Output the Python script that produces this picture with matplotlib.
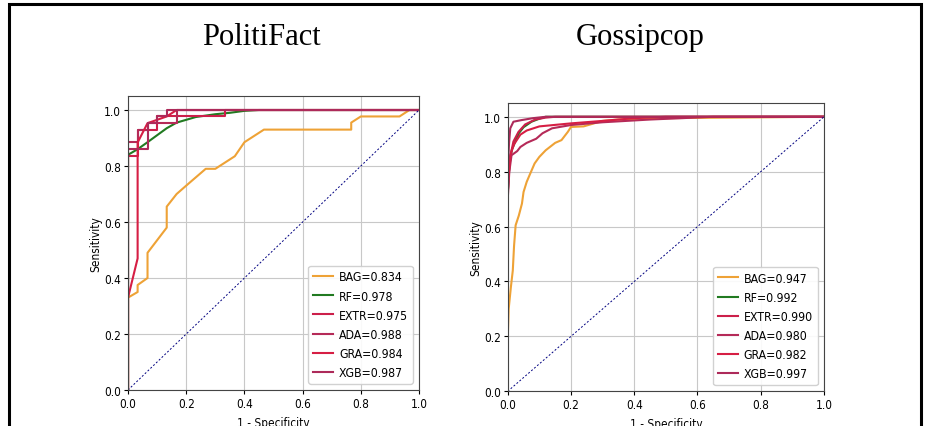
import matplotlib
matplotlib.use("Agg")
import matplotlib.pyplot as plt
from matplotlib.patches import Rectangle
from matplotlib import font_manager

# ---- PolitiFact ROC points ----
pf_bag_x = [0, 0, 0.033, 0.033, 0.067, 0.067, 0.133, 0.133, 0.167, 0.2, 0.267, 0.3, 0.367, 0.4, 0.467, 0.767, 0.767, 0.8, 0.933, 0.967, 1.0]
pf_bag_y = [0, 0.33, 0.35, 0.375, 0.40, 0.49, 0.58, 0.655, 0.70, 0.73, 0.79, 0.79, 0.835, 0.885, 0.93, 0.93, 0.955, 0.977, 0.977, 1.0, 1.0]
pf_rf_x = [0, 0, 0.033, 0.067, 0.1, 0.133, 0.167, 0.2, 0.233, 0.3, 0.35, 0.4, 0.45, 1.0]
pf_rf_y = [0, 0.84, 0.86, 0.885, 0.91, 0.935, 0.955, 0.965, 0.975, 0.985, 0.99, 0.997, 1.0, 1.0]
pf_extr_x = [0, 0, 0.033, 0.033, 0.1, 0.1, 0.333, 0.333, 1.0]
pf_extr_y = [0, 0.837, 0.837, 0.93, 0.93, 0.977, 0.977, 1.0, 1.0]
pf_ada_x = [0, 0, 0.033, 0.033, 0.067, 0.067, 0.167, 0.167, 1.0]
pf_ada_y = [0, 0.884, 0.884, 0.93, 0.93, 0.953, 0.953, 1.0, 1.0]
pf_gra_x = [0, 0, 0.033, 0.033, 0.067, 0.133, 0.167, 1.0]
pf_gra_y = [0, 0.33, 0.47, 0.884, 0.953, 0.977, 1.0, 1.0]
pf_xgb_x = [0, 0, 0.067, 0.067, 0.1, 0.1, 0.133, 0.133, 1.0]
pf_xgb_y = [0, 0.86, 0.86, 0.953, 0.953, 0.977, 0.977, 1.0, 1.0]

# ---- Gossipcop ROC points ----
gc_bag_x = [0, 0, 0.003, 0.01, 0.016, 0.02, 0.025, 0.035, 0.045, 0.05, 0.06, 0.07, 0.085, 0.1, 0.12, 0.15, 0.17, 0.19, 0.2, 0.24, 0.27, 0.3, 0.35, 0.5, 1.0]
gc_bag_y = [0, 0.19, 0.30, 0.38, 0.44, 0.53, 0.605, 0.64, 0.684, 0.726, 0.763, 0.79, 0.83, 0.854, 0.878, 0.905, 0.915, 0.945, 0.963, 0.965, 0.975, 0.985, 0.99, 0.995, 1.0]
gc_rf_x = [0, 0, 0.005, 0.013, 0.024, 0.035, 0.05, 0.075, 0.1, 0.12, 1.0]
gc_rf_y = [0, 0.72, 0.82, 0.88, 0.91, 0.94, 0.962, 0.982, 0.993, 1.0, 1.0]
gc_extr_x = [0, 0, 0.007, 0.018, 0.034, 0.055, 0.087, 0.12, 0.15, 1.0]
gc_extr_y = [0, 0.72, 0.85, 0.91, 0.945, 0.972, 0.99, 0.997, 1.0, 1.0]
gc_ada_x = [0, 0, 0.005, 0.012, 0.03, 0.04, 0.06, 0.09, 0.11, 0.14, 0.2, 0.3, 0.45, 0.65, 1.0]
gc_ada_y = [0, 0.70, 0.80, 0.86, 0.875, 0.89, 0.905, 0.92, 0.94, 0.958, 0.97, 0.98, 0.99, 1.0, 1.0]
gc_gra_x = [0, 0, 0.008, 0.02, 0.04, 0.06, 0.1, 0.2, 0.3, 0.4, 0.5, 1.0]
gc_gra_y = [0, 0.75, 0.86, 0.90, 0.935, 0.95, 0.965, 0.976, 0.985, 0.995, 1.0, 1.0]
gc_xgb_x = [0, 0, 0.004, 0.008, 0.018, 0.044, 0.08, 0.12, 1.0]
gc_xgb_y = [0, 0.80, 0.90, 0.958, 0.982, 0.988, 0.995, 1.0, 1.0]

models = ["BAG", "RF", "EXTR", "ADA", "GRA", "XGB"]
pf_auc = [0.834, 0.978, 0.975, 0.988, 0.984, 0.987]
gc_auc = [0.947, 0.992, 0.990, 0.980, 0.982, 0.997]
colors = ["#eea236", "#217a21", "#cc1f4a", "#b52a58", "#d61e44", "#ad2a5a"]

ticks = [0.0, 0.2, 0.4, 0.6, 0.8, 1.0]

# narrow sans text like the squeezed screenshot
installed = {f.name for f in font_manager.fontManager.ttflist}
narrow = [f for f in ["DejaVu Sans Condensed", "Liberation Sans Narrow"] if f in installed]
plt.rcParams["font.family"] = narrow + ["DejaVu Sans"]
plt.rcParams["font.stretch"] = "condensed"

fig = plt.figure(figsize=(9.25, 4.27), dpi=100)
fig.patch.set_facecolor("white")

# outer frame (bottom runs off the picture)
fig.patches.append(Rectangle((0.0097, -0.1), 0.986, 1.088, transform=fig.transFigure,
                             fill=False, edgecolor="black", linewidth=2.2))

panels = [
    ("PolitiFact", [0.1384, 0.0843, 0.3146, 0.6885], 0.283,
     [(pf_bag_x, pf_bag_y), (pf_rf_x, pf_rf_y), (pf_extr_x, pf_extr_y),
      (pf_ada_x, pf_ada_y), (pf_gra_x, pf_gra_y), (pf_xgb_x, pf_xgb_y)], pf_auc),
    ("Gossipcop", [0.5489, 0.0813, 0.3419, 0.675], 0.692,
     [(gc_bag_x, gc_bag_y), (gc_rf_x, gc_rf_y), (gc_extr_x, gc_extr_y),
      (gc_ada_x, gc_ada_y), (gc_gra_x, gc_gra_y), (gc_xgb_x, gc_xgb_y)], gc_auc),
]

for title, rect, tx, curves, aucs in panels:
    ax = fig.add_axes(rect)
    for (xs, ys), name, auc, c in zip(curves, models, aucs, colors):
        ax.plot(xs, ys, color=c, linewidth=1.5, label=f"{name}={auc:.3f}")
    ax.plot([0, 1], [0, 1], color="navy", linestyle="--", linewidth=0.7, dashes=(2, 2))
    ax.set_xlim(0, 1)
    ax.set_ylim(0, 1.05)
    ax.set_xticks(ticks)
    ax.set_yticks(ticks)
    ax.tick_params(labelsize=8.5, length=3, pad=2)
    ax.grid(True, color="#c8c8c8", linewidth=0.8)
    # the label runs off the bottom edge, as in the screenshot
    ax.set_xlabel("1 - Specificity", fontsize=8.5, labelpad=4)
    ax.set_ylabel("Sensitivity", fontsize=8.5, labelpad=1)
    for s in ax.spines.values():
        s.set_color("#444444")
    ax.legend(loc="lower right", fontsize=8.8, handlelength=1.6, handletextpad=0.5,
              labelspacing=0.5, borderaxespad=0.5, framealpha=0.9)
    fig.text(tx, 0.913, title, ha="center", va="center",
             fontsize=22, family="Liberation Serif")

fig.savefig("out.png", dpi=100)
